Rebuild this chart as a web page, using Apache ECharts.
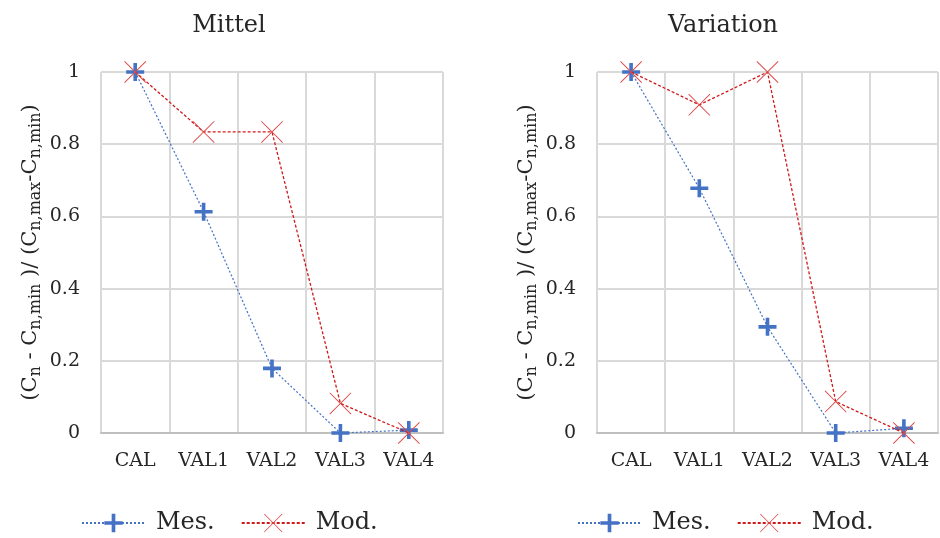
<!DOCTYPE html>
<html>
<head>
<meta charset="utf-8">
<script src="https://cdn.jsdelivr.net/npm/echarts@6/dist/echarts.min.js"></script>
<style>
  html, body { margin: 0; padding: 0; background: #fff; }
  #chart { width: 940px; height: 538px; }
</style>
</head>
<body>
<div id="chart"></div>
<script>
// Normalised concentration per case, two panels
const categories = ['CAL', 'VAL1', 'VAL2', 'VAL3', 'VAL4'];
const panelTitles = ['Mittel', 'Variation'];

const mittelMes = [1, 0.613, 0.179, 0, 0.008];
const mittelMod = [1, 0.834, 0.834, 0.082, 0];
const variationMes = [1, 0.678, 0.294, 0, 0.013];
const variationMod = [1, 0.909, 1, 0.087, 0];

const seriesNames = ['Mes.', 'Mod.'];

const FONT = 'DejaVu Serif';
const TEXT = '#262626';
const BLUE = '#4472C4';
const RED = '#D01818';

// Thick plus and thin cross markers
const plusPath = 'path://M40,0 H60 V40 H100 V60 H60 V100 H40 V60 H0 V40 H40 Z';
const crossPath = 'path://M0,3 L3,0 L50,47 L97,0 L100,3 L53,50 L100,97 L97,100 L50,53 L3,100 L0,97 L47,50 Z';

const yName = '{n|(C}{s|n}{n| - C}{s|n,min}{n| )/ (C}{s|n,max}{n|-C}{s|n,min}{n|)}';
const yNameRich = {
  n: { fontFamily: FONT, fontSize: 21, color: TEXT, lineHeight: 27 },
  s: { fontFamily: FONT, fontSize: 16, color: TEXT, lineHeight: 16, verticalAlign: 'bottom' }
};

const grids = [
  { left: 101, top: 72, width: 342, height: 361 },
  { left: 597, top: 72, width: 341, height: 361 }
];

function xAxis(i) {
  return {
    type: 'category',
    gridIndex: i,
    data: categories,
    boundaryGap: true,
    axisLine: { show: true, lineStyle: { color: '#BFBFBF', width: 2 } },
    axisTick: { show: false },
    axisLabel: { fontFamily: FONT, fontSize: 19, color: TEXT, margin: 19, interval: 0 },
    splitLine: { show: true, lineStyle: { color: '#D9D9D9', width: 2 } }
  };
}

function yAxis(i) {
  return {
    type: 'value',
    gridIndex: i,
    min: 0,
    max: 1,
    interval: 0.2,
    axisLine: { show: false },
    axisTick: { show: false },
    axisLabel: { fontFamily: FONT, fontSize: 19, color: TEXT, margin: 21 },
    splitLine: { show: true, lineStyle: { color: '#D9D9D9', width: 2 } },
    name: yName,
    nameLocation: 'middle',
    nameRotate: 90,
    nameGap: 57,
    nameTextStyle: { rich: yNameRich }
  };
}

function mesSeries(i, data) {
  return {
    name: seriesNames[0],
    type: 'line',
    xAxisIndex: i,
    yAxisIndex: i,
    data: data,
    symbol: plusPath,
    symbolSize: 18,
    clip: false,
    itemStyle: { color: BLUE, borderWidth: 0 },
    lineStyle: { color: BLUE, width: 1.2, type: [2, 2] },
    emphasis: { disabled: true },
    z: 3
  };
}

function modSeries(i, data) {
  return {
    name: seriesNames[1],
    type: 'line',
    xAxisIndex: i,
    yAxisIndex: i,
    data: data,
    symbol: crossPath,
    symbolSize: 22,
    clip: false,
    itemStyle: { color: '#E04848', borderWidth: 0 },
    lineStyle: { color: RED, width: 1.3, type: [3, 2] },
    emphasis: { disabled: true },
    z: 4
  };
}

function legend(left) {
  return {
    left: left,
    top: 506,
    itemWidth: 63,
    itemHeight: 23,
    itemGap: 26,
    data: seriesNames,
    selectedMode: false,
    textStyle: { fontFamily: FONT, fontSize: 24, color: TEXT, padding: [0, 0, 0, 6] }
  };
}

const chart = echarts.init(document.getElementById('chart'), null, { renderer: 'canvas' });
chart.setOption({
  backgroundColor: '#ffffff',
  animation: false,
  title: [
    { text: panelTitles[0], left: 224, top: 9, textAlign: 'center',
      textStyle: { fontFamily: FONT, fontSize: 24, fontWeight: 'normal', color: TEXT } },
    { text: panelTitles[1], left: 718, top: 9, textAlign: 'center',
      textStyle: { fontFamily: FONT, fontSize: 24, fontWeight: 'normal', color: TEXT } }
  ],
  legend: [legend(76), legend(572)],
  grid: grids,
  xAxis: [xAxis(0), xAxis(1)],
  yAxis: [yAxis(0), yAxis(1)],
  series: [
    mesSeries(0, mittelMes),
    modSeries(0, mittelMod),
    mesSeries(1, variationMes),
    modSeries(1, variationMod)
  ]
});
</script>
</body>
</html>
